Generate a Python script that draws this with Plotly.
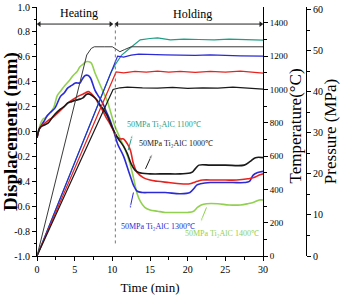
import plotly.graph_objects as go

# ---------------- data ----------------
# Displacement (mm) vs time (min)
t_green = [0, 0.4, 0.8, 1.1, 1.7, 2.2, 2.7, 3.2, 3.7, 4.3, 4.8, 5.3, 5.7, 6.1, 6.5, 6.9, 7.2, 7.7, 8.2, 8.7, 9.3, 9.8, 10.3, 11.0, 11.8, 12.3, 12.8, 13.3, 13.7, 14.3, 15.0, 16.0, 17.0, 18.5, 20.0, 20.8, 21.3, 21.8, 22.5, 24.0, 25.5, 27.0, 28.0, 28.7, 29.5, 30.0]
d_green = [-0.05, 0.05, 0.10, 0.11, 0.15, 0.19, 0.29, 0.33, 0.37, 0.41, 0.45, 0.48, 0.52, 0.54, 0.56, 0.56, 0.55, 0.47, 0.40, 0.33, 0.25, 0.15, 0.05, -0.05, -0.16, -0.25, -0.37, -0.50, -0.56, -0.61, -0.63, -0.64, -0.65, -0.65, -0.65, -0.64, -0.61, -0.59, -0.58, -0.58, -0.59, -0.59, -0.58, -0.57, -0.55, -0.55]

t_blue = [0, 0.3, 0.6, 1.0, 1.4, 1.9, 2.4, 3.1, 3.6, 4.1, 4.6, 5.1, 5.7, 6.0, 6.4, 6.8, 7.1, 7.7, 8.2, 8.7, 9.2, 9.7, 10.2, 10.7, 11.5, 12.0, 12.5, 12.8, 13.3, 14.0, 15.0, 17.0, 19.0, 20.3, 20.8, 21.2, 21.7, 23.0, 24.5, 26.0, 27.5, 28.2, 28.7, 29.3, 30.0]
d_blue = [-0.05, 0.02, 0.05, 0.09, 0.13, 0.16, 0.19, 0.28, 0.31, 0.35, 0.37, 0.39, 0.39, 0.42, 0.45, 0.45, 0.43, 0.33, 0.28, 0.23, 0.16, 0.09, 0.0, -0.10, -0.20, -0.29, -0.38, -0.43, -0.48, -0.49, -0.49, -0.49, -0.50, -0.49, -0.46, -0.43, -0.42, -0.41, -0.41, -0.41, -0.41, -0.40, -0.35, -0.33, -0.32]

t_red = [0, 0.4, 0.9, 1.5, 2.0, 2.4, 3.1, 3.6, 4.1, 4.6, 5.1, 5.7, 6.1, 6.4, 6.8, 7.1, 7.7, 8.2, 8.7, 9.2, 9.7, 10.2, 10.7, 11.1, 11.5, 12.0, 12.4, 12.8, 13.3, 14.1, 15.0, 16.0, 17.5, 19.0, 20.3, 20.8, 21.3, 22.0, 23.5, 25.0, 26.5, 28.0, 28.8, 29.5, 30.0]
d_red = [-0.05, 0.03, 0.06, 0.09, 0.11, 0.13, 0.17, 0.20, 0.23, 0.25, 0.27, 0.29, 0.30, 0.31, 0.32, 0.31, 0.27, 0.22, 0.17, 0.11, 0.06, 0.0, -0.05, -0.06, -0.06, -0.10, -0.15, -0.26, -0.33, -0.37, -0.39, -0.40, -0.41, -0.42, -0.42, -0.41, -0.40, -0.39, -0.39, -0.39, -0.39, -0.38, -0.37, -0.35, -0.34]

t_black = [0, 0.4, 0.9, 1.5, 2.0, 2.4, 3.1, 3.6, 4.1, 4.6, 5.1, 5.7, 6.1, 6.6, 7.0, 7.5, 8.0, 8.4, 8.9, 9.3, 10.0, 10.7, 11.5, 12.0, 12.5, 13.0, 13.5, 15.0, 17.0, 19.0, 20.5, 21.0, 21.5, 23.0, 25.0, 27.5, 28.3, 29.0, 30.0]
d_black = [-0.05, 0.03, 0.05, 0.07, 0.11, 0.14, 0.18, 0.20, 0.23, 0.24, 0.25, 0.26, 0.27, 0.30, 0.30, 0.28, 0.25, 0.21, 0.17, 0.13, 0.03, -0.05, -0.12, -0.18, -0.26, -0.31, -0.33, -0.34, -0.34, -0.34, -0.33, -0.30, -0.27, -0.27, -0.27, -0.27, -0.24, -0.21, -0.21]

# Temperature (°C) vs time (min)
t_temp_teal = [0, 9.8, 10.4, 11.2, 12.4, 13.7, 15.0, 16.0, 17.7, 19.5, 21.5, 23.5, 25.5, 27.5, 30.0]
temp_teal = [0, 1100, 1150, 1205, 1250, 1298, 1306, 1310, 1298, 1302, 1300, 1298, 1302, 1298, 1296]
t_temp_blue = [0, 10.7, 11.5, 12.5, 13.5, 15.0, 17.0, 19.0, 21.0, 23.0, 25.0, 27.0, 30.0]
temp_blue = [0, 1200, 1194, 1206, 1212, 1212, 1208, 1206, 1204, 1208, 1204, 1202, 1200]
t_temp_red = [0, 10.5, 11.5, 13.0, 14.5, 16.0, 17.5, 19.0, 21.0, 23.0, 25.0, 27.0, 28.5, 30.0]
temp_red = [0, 1105, 1100, 1108, 1104, 1110, 1104, 1108, 1103, 1109, 1104, 1110, 1104, 1098]
t_temp_black = [0, 10.1, 11.0, 12.0, 14.0, 16.0, 18.0, 20.0, 22.0, 24.0, 26.0, 28.0, 30.0]
temp_black = [0, 1000, 1010, 1014, 1010, 1008, 1012, 1006, 1010, 1008, 1014, 1006, 1002]

# Pressure (MPa) vs time (min)
t_press = [0, 6.6, 7.2, 7.6, 9.0, 10.0, 10.6, 11.0, 11.6, 12.5, 15.0, 20.0, 25.0, 30.0]
press = [0, 49.0, 50.6, 51.0, 51.0, 51.0, 50.3, 49.8, 50.3, 51.0, 51.0, 51.0, 51.0, 51.0]

# Ticks
x_ticks = [0, 5, 10, 15, 20, 25, 30]
y_ticks = [-1.0, -0.8, -0.6, -0.4, -0.2, 0.0, 0.2, 0.4, 0.6, 0.8, 1.0]
y_ticktext = ["-1.0", "-0.8", "-0.6", "-0.4", "-0.2", "0.0", "0.2", "0.4", "0.6", "0.8", "1.0"]
temp_ticks = [0, 200, 400, 600, 800, 1000, 1200, 1400]
press_ticks = [0, 10, 20, 30, 40, 50, 60]

hold_start = 10.4

# ---------------- styles ----------------
SERIF = "Liberation Serif, Times New Roman, serif"
C_GREEN = "#92d050"
C_BLUE = "#2a2ad6"
C_RED = "#e8231f"
C_BLACK = "#1a1a1a"
C_TEAL = "#1f9e86"

fig = go.Figure()

# temperature lines
for tx, ty, c in [(t_temp_teal, temp_teal, C_TEAL), (t_temp_blue, temp_blue, C_BLUE),
                  (t_temp_red, temp_red, C_RED), (t_temp_black, temp_black, C_BLACK)]:
    fig.add_trace(go.Scatter(x=tx, y=ty, yaxis="y2", mode="lines",
                             line=dict(color=c, width=1.2), showlegend=False))
# pressure
fig.add_trace(go.Scatter(x=t_press, y=press, yaxis="y3", mode="lines",
                         line=dict(color="#3a3a3a", width=1.0), showlegend=False))
# displacement
for tx, ty, c in [(t_green, d_green, C_GREEN), (t_blue, d_blue, C_BLUE),
                  (t_red, d_red, C_RED), (t_black, d_black, C_BLACK)]:
    fig.add_trace(go.Scatter(x=tx, y=ty, mode="lines", line=dict(color=c, width=1.6),
                             line_shape="spline", showlegend=False))

# Heating / Holding double arrows
arrow_y = 0.863
for x0, x1 in [(0.3, 9.8), (10.6, 29.7)]:
    fig.add_trace(go.Scatter(x=[x0, x1], y=[arrow_y, arrow_y], mode="lines+markers",
                             line=dict(color="#222222", width=1),
                             marker=dict(symbol=["triangle-left", "triangle-right"], size=5,
                                         color="#222222"),
                             cliponaxis=False, showlegend=False, hoverinfo="skip"))

# label pointer arrows (tail on curve, head toward label)
pointers = [
    (12.1, -0.15, 12.7, -0.02, C_TEAL),
    (14.4, -0.30, 15.3, -0.18, C_BLACK),
    (12.8, -0.49, 12.3, -0.63, C_BLUE),
    (22.5, -0.61, 21.7, -0.73, C_GREEN),
]
for tx0, ty0, hx, hy, c in pointers:
    fig.add_trace(go.Scatter(x=[tx0, hx], y=[ty0, hy], mode="lines+markers",
                             line=dict(color=c, width=1),
                             marker=dict(symbol=["circle", "arrow"], size=[0, 5], color=c,
                                         angleref="previous"),
                             showlegend=False, hoverinfo="skip"))

W_PLOT = 340 - 37 - 10
dom_end = 226 / W_PLOT
press_pos = (306 - 37) / W_PLOT
temp_title_x = (296 - 37) / W_PLOT

tickfont = dict(family=SERIF, size=10, color="black")

fig.update_layout(
    width=340, height=295,
    margin=dict(l=37, r=10, t=7, b=39, autoexpand=False),
    plot_bgcolor="white", paper_bgcolor="white",
    showlegend=False,
    xaxis=dict(domain=[0, dom_end], range=[0, 30], tickvals=x_ticks,
               ticks="outside", ticklen=4, tickwidth=1, tickcolor="black",
               minor=dict(dtick=2.5, ticks="outside", ticklen=3, tickcolor="black"),
               showline=True, linecolor="black", linewidth=1, showgrid=False, zeroline=False,
               tickfont=tickfont,
               title=dict(text="Time (min)", font=dict(family=SERIF, size=13, color="black"), standoff=8)),
    yaxis=dict(range=[-1, 1], tickvals=y_ticks, ticktext=y_ticktext,
               ticks="outside", ticklen=4, tickwidth=1, tickcolor="black",
               minor=dict(dtick=0.1, ticks="outside", ticklen=2.5, tickcolor="black"),
               showline=True, linecolor="black", linewidth=1, showgrid=False, zeroline=False,
               tickfont=tickfont,
               title=dict(text="<b>Displacement (mm)</b>", font=dict(family=SERIF, size=19, color="black"), standoff=0)),
    yaxis2=dict(overlaying="y", side="right", anchor="x", range=[0, 1495], tickvals=temp_ticks,
                ticks="outside", ticklen=4, tickwidth=1, tickcolor="black",
                minor=dict(dtick=100, ticks="outside", ticklen=2.5, tickcolor="black"),
                showline=True, linecolor="black", linewidth=1, showgrid=False, zeroline=False,
                tickfont=dict(family=SERIF, size=9, color="black")),
    yaxis3=dict(overlaying="y", side="right", anchor="free", position=press_pos, range=[0, 60.7],
                tickvals=press_ticks,
                ticks="outside", ticklen=4, tickwidth=1, tickcolor="black",
                minor=dict(dtick=5, ticks="outside", ticklen=2.5, tickcolor="black"),
                showline=True, linecolor="black", linewidth=1, showgrid=False, zeroline=False,
                tickfont=tickfont,
                title=dict(text="Pressure (MPa)", font=dict(family=SERIF, size=17, color="black"), standoff=2)),
)

# temperature axis title (placed between the two right axes)
fig.add_annotation(x=temp_title_x, y=0.52, xref="paper", yref="paper", text="Temperature(°C)",
                   textangle=-90, showarrow=False, xanchor="center", yanchor="middle",
                   font=dict(family=SERIF, size=17, color="black"))

# dotted separator
fig.add_shape(type="line", xref="x", yref="y", x0=hold_start, x1=hold_start, y0=0.86, y1=-0.91,
              line=dict(color="#777777", width=1, dash="dot"))

fig.add_annotation(x=5.6, y=0.955, xref="x", yref="y", text="Heating", showarrow=False,
                   font=dict(family=SERIF, size=12, color="black"))
fig.add_annotation(x=20.6, y=0.945, xref="x", yref="y", text="Holding", showarrow=False,
                   font=dict(family=SERIF, size=12, color="black"))

# series labels
labels = [
    ("50MPa Ti₂AlC 1100℃", 16.9, 0.06, C_TEAL),
    ("50MPa Ti₂AlC 1000℃", 18.4, -0.095, C_BLACK),
    ("50MPa Ti₂AlC 1300℃", 16.0, -0.76, C_BLUE),
    ("50MPa Ti₂AlC 1400℃", 24.5, -0.82, C_GREEN),
]
for txt, lx, ly, c in labels:
    fig.add_annotation(x=lx, y=ly, xref="x", yref="y", text=txt, showarrow=False,
                       font=dict(family=SERIF, size=8, color=c))

fig.write_html("out.html")
